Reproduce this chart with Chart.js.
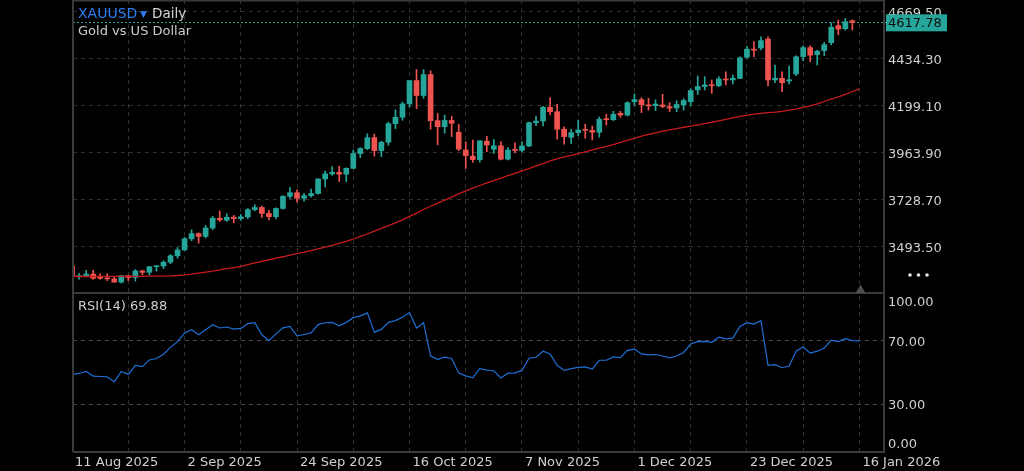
<!DOCTYPE html>
<html><head><meta charset="utf-8">
<script src="https://cdn.jsdelivr.net/npm/chart.js@4.4.1/dist/chart.umd.min.js"></script>
<style>html,body{margin:0;padding:0;background:#000;overflow:hidden}#wrap{width:1024px;height:471px}</style>
</head><body><div id="wrap"><canvas id="c" width="1024" height="471"></canvas></div>
<script>
const symbol = 'XAUUSD';
const interval = 'Daily';
const description = 'Gold vs US Dollar';
const rsiTitle = 'RSI(14)';
const dateLabels = ['11 Aug 2025','2 Sep 2025','24 Sep 2025','16 Oct 2025','7 Nov 2025','1 Dec 2025','23 Dec 2025','16 Jan 2026'];
const opens = [3396,3343,3348,3356,3336,3336,3332,3316,3348,3339,3372,3365,3393,3397,3416,3448,3477,3533,3559,3545,
3587,3636,3626,3641,3634,3643,3679,3690,3660,3644,3685,3746,3764,3736,3749,3760,3833,3858,3866,3857,
3886,3960,3985,4040,3975,4017,4110,4142,4209,4326,4251,4356,4125,4095,4126,4067,3978,3947,3930,4022,
3982,3999,3932,3981,3976,3998,4115,4123,4192,4170,4082,4042,4065,4078,4076,4067,4135,4130,4162,4153,
4220,4230,4204,4200,4204,4195,4189,4204,4220,4279,4296,4304,4300,4334,4329,4337,4443,4483,4489,4534,
4329,4337,4324,4359,4446,4491,4456,4476,4516,4601,4586,4626];
const highs = [3404,3359,3375,3375,3358,3358,3345,3350,3351,3379,3376,3394,3399,3423,3454,3489,3540,3578,3563,3600,
3646,3673,3658,3650,3655,3685,3703,3697,3676,3688,3750,3791,3779,3761,3782,3834,3872,3895,3897,3889,
3977,3990,4059,4058,4022,4117,4179,4218,4326,4381,4381,4375,4161,4153,4147,4107,4019,4028,4025,4046,
4030,4020,3990,4014,4019,4118,4148,4197,4240,4207,4094,4082,4128,4107,4098,4143,4157,4172,4172,4220,
4259,4240,4237,4229,4257,4215,4225,4235,4285,4349,4345,4329,4345,4370,4354,4445,4497,4521,4545,4545,
4404,4370,4399,4450,4500,4500,4478,4517,4615,4629,4638,4630];
const lows = [3342,3331,3345,3330,3330,3323,3315,3311,3324,3321,3352,3351,3371,3384,3408,3436,3475,3523,3511,3537,
3579,3620,3620,3613,3625,3633,3673,3640,3628,3633,3681,3735,3717,3722,3741,3757,3793,3851,3820,3820,
3885,3940,3980,3947,3945,4002,4085,4127,4192,4185,4237,4082,4004,4062,4045,3975,3886,3916,3917,3970,
3961,3928,3928,3964,3970,3995,4100,4098,4155,4032,4007,4010,4050,4037,4028,4042,4103,4125,4142,4148,
4203,4165,4178,4175,4190,4170,4170,4178,4200,4256,4279,4262,4295,4304,4309,4335,4438,4446,4480,4299,
4315,4270,4309,4350,4426,4421,4404,4451,4505,4555,4579,4579];
const closes = [3343,3348,3356,3335,3335,3332,3316,3348,3339,3372,3365,3393,3397,3416,3448,3477,3533,3559,3545,3587,
3636,3627,3641,3634,3643,3679,3690,3660,3644,3685,3746,3764,3736,3749,3760,3833,3858,3866,3857,3886,
3960,3985,4040,3975,4017,4110,4142,4209,4326,4251,4356,4125,4095,4126,4112,3982,3950,3930,4024,4003,
3999,3932,3978,3976,3998,4115,4123,4192,4170,4082,4045,4065,4078,4077,4067,4132,4130,4157,4153,4215,
4230,4205,4199,4208,4196,4188,4206,4226,4276,4296,4304,4300,4334,4329,4337,4440,4483,4478,4526,4329,
4337,4315,4330,4445,4491,4453,4473,4506,4593,4584,4621,4617.78];
const movingAvg = [3344,3344,3344,3344,3345,3345,3345,3345,3345,3345,3345,3346,3346,3346,3347,3349,3352,3356,3361,3366,
3371,3377,3383,3389,3395,3403,3412,3420,3428,3436,3443,3451,3459,3466,3474,3483,3491,3500,3510,3520,
3532,3545,3557,3571,3585,3599,3613,3628,3645,3662,3680,3696,3712,3727,3742,3758,3773,3787,3800,3813,
3824,3837,3849,3861,3873,3885,3898,3910,3923,3934,3943,3951,3960,3969,3978,3987,3996,4005,4016,4026,
4036,4047,4056,4064,4072,4079,4085,4092,4098,4104,4110,4117,4124,4131,4139,4146,4152,4158,4162,4165,
4168,4172,4178,4183,4191,4199,4209,4221,4233,4244,4257,4271,4284];
const rsiValues = [48.8,49.4,50.7,47.7,47.5,47.3,44.1,50.7,48.8,54.5,53.7,57.9,58.8,61.5,65.8,69.4,74.9,76.9,73.7,76.9,
80.1,78.0,78.6,77.3,77.7,80.7,81.3,73.7,70.0,74.3,78.1,79.0,73.0,73.9,74.9,80.1,81.3,81.5,79.4,81.5,
84.5,85.6,87.5,75.4,77.1,81.5,82.6,84.7,87.7,78.0,81.3,60.4,58.3,59.6,58.8,49.6,47.9,46.6,52.4,51.5,
51.1,46.6,49.6,49.8,51.3,59.0,59.6,63.4,61.7,54.5,51.3,52.4,53.2,53.5,52.1,57.7,57.7,59.8,59.4,63.9,
64.7,61.7,61.1,61.3,60.4,59.2,60.4,62.6,67.9,69.4,69.6,69.0,72.2,71.1,71.6,79.0,81.3,80.5,82.6,54.5,
54.9,53.0,54.1,63.4,66.0,62.2,63.4,65.4,70.3,69.4,71.3,70.0,69.88];
const priceTicks = [3493.5, 3728.7, 3963.9, 4199.1, 4434.3, 4669.5];
const rsiTicks = [0, 30, 70, 100];
const xTickStep = 8, xLabelStep = 16;
const lastPrice = 4617.78;
const lastRsi = 69.88;
const priceMin = 3261.4, priceMax = 4729.6;
const xMin = 0.13, xMax = 115.5;

const UP = '#26a69a', DOWN = '#ef5350';
const FONT = 'DejaVu Sans';
const LABEL = '#cfcfcf';
const GRID = '#303030';
Chart.defaults.font.family = FONT;

const candleColors = closes.map((c, i) => c >= opens[i] ? UP : DOWN);
const wickData = closes.map((c, i) => ({x: i, y: [lows[i], highs[i]]}));
const bodyData = closes.map((c, i) => ({x: i, y: [opens[i], c]}));
const maData = movingAvg.map((v, i) => ({x: i, y: v}));
const rsiData = rsiValues.map((v, i) => ({x: i, y: v}));
const xTickValues = [];
for (let v = 0; v <= dateLabels.length * xLabelStep - xLabelStep; v += xTickStep) xTickValues.push(v);

const panelPlugin = {
  id: 'panel',
  beforeDatasetsDraw(chart) {
    const {ctx, chartArea: ca, scales: {y}} = chart;
    const py = Math.round(y.getPixelForValue(lastPrice)) + 0.5;
    ctx.save();
    ctx.strokeStyle = UP; ctx.lineWidth = 1; ctx.setLineDash([2, 2]);
    ctx.beginPath(); ctx.moveTo(ca.left, py); ctx.lineTo(ca.right + 3, py); ctx.stroke();
    ctx.restore();
  },
  afterDraw(chart) {
    const {ctx, chartArea: ca, scales: {y, rsi}} = chart;
    ctx.save();
    // frame
    ctx.strokeStyle = '#3a3a3a'; ctx.lineWidth = 2; ctx.setLineDash([]);
    ctx.beginPath();
    ctx.moveTo(ca.left, 0); ctx.lineTo(ca.left, ca.bottom);
    ctx.moveTo(ca.right, 0); ctx.lineTo(ca.right, ca.bottom + 1);
    ctx.moveTo(ca.left, 0.5); ctx.lineTo(ca.right, 0.5);
    ctx.moveTo(ca.left, rsi.top); ctx.lineTo(ca.right + 1, rsi.top);
    ctx.moveTo(ca.left, ca.bottom); ctx.lineTo(ca.right, ca.bottom);
    ctx.stroke();
    // rsi end labels
    ctx.fillStyle = LABEL; ctx.font = '13px "' + FONT + '"'; ctx.textBaseline = 'middle'; ctx.textAlign = 'left';
    ctx.fillText(rsiTicks[3].toFixed(2), ca.right + 4, rsi.getPixelForValue(rsiTicks[3]) + 9.5);
    ctx.fillText(rsiTicks[0].toFixed(2), ca.right + 4, rsi.getPixelForValue(rsiTicks[0]) - 7);
    // price tag
    const py = y.getPixelForValue(lastPrice);
    ctx.fillStyle = UP; ctx.fillRect(ca.right + 2, py - 8, 61, 17);
    ctx.fillStyle = '#0d0d0d'; ctx.fillText(lastPrice.toFixed(2), ca.right + 4, py + 1.5);
    // header
    ctx.font = '14px "' + FONT + '"'; ctx.fillStyle = '#2f7df4';
    ctx.fillText(symbol, 78, 14);
    ctx.font = '9px "' + FONT + '"'; ctx.fillText('\u25BC', 140, 15);
    ctx.font = '13.5px "' + FONT + '"'; ctx.fillStyle = '#d4d4d4';
    ctx.fillText(interval, 152, 14);
    ctx.font = '13px "' + FONT + '"'; ctx.fillStyle = '#cccccc';
    ctx.fillText(description, 78, 31.5);
    ctx.fillText(rsiTitle + ' ' + lastRsi.toFixed(2), 78, 307);
    // dots and scroll marker
    ctx.fillStyle = '#e6e6e6';
    [910, 918.5, 927].forEach(cx => { ctx.beginPath(); ctx.arc(cx, 275, 1.8, 0, Math.PI * 2); ctx.fill(); });
    ctx.fillStyle = '#4c4c4c';
    ctx.beginPath(); ctx.moveTo(855.5, 293); ctx.lineTo(865.5, 293); ctx.lineTo(860.5, 284.5); ctx.closePath(); ctx.fill();
    ctx.restore();
  }
};

new Chart(document.getElementById('c'), {
  type: 'bar',
  data: {
    datasets: [
      {type: 'bar', data: wickData, backgroundColor: candleColors, barThickness: 1, grouped: false, clip: 0, order: 4, yAxisID: 'y'},
      {type: 'bar', data: bodyData, backgroundColor: candleColors, barThickness: 5, grouped: false, minBarLength: 1, clip: 0, order: 3, yAxisID: 'y'},
      {type: 'line', data: maData, borderColor: '#c81b1b', borderWidth: 1.3, pointRadius: 0, tension: 0, order: 2, yAxisID: 'y'},
      {type: 'line', data: rsiData, borderColor: '#1f6fd4', borderWidth: 1.2, pointRadius: 0, tension: 0, order: 1, yAxisID: 'rsi'}
    ]
  },
  options: {
    responsive: false, animation: false, devicePixelRatio: 1,
    layout: {padding: {left: 73, right: 0, top: 0, bottom: 0}},
    plugins: {legend: {display: false}, tooltip: {enabled: false}},
    scales: {
      x: {
        type: 'linear', min: xMin, max: xMax, offset: false,
        afterBuildTicks(s) { s.ticks = xTickValues.map(v => ({value: v})); },
        afterFit(s) { s.height = 19; s.paddingLeft = 0; s.paddingRight = 0; },
        grid: {color: GRID, drawTicks: false, offset: false, borderDash: [4, 4]},
        border: {display: false, dash: [4, 4]},
        ticks: {autoSkip: false, maxRotation: 0, minRotation: 0, align: 'start', labelOffset: 3, padding: 3,
          color: LABEL, font: {family: FONT, size: 13},
          callback: v => (v % xLabelStep === 0 ? dateLabels[v / xLabelStep] : '')}
      },
      y: {
        type: 'linear', position: 'right', stack: 'panes', stackWeight: 293, min: priceMin, max: priceMax,
        afterBuildTicks(s) { s.ticks = priceTicks.map(v => ({value: v})); },
        afterFit(s) { s.width = 140; s.paddingTop = 0; s.paddingBottom = 0; },
        grid: {color: GRID, drawTicks: false, borderDash: [4, 4]},
        border: {display: false, dash: [4, 4]},
        ticks: {padding: 4, labelOffset: 1.5, color: LABEL, font: {family: FONT, size: 13}, callback: v => Number(v).toFixed(2)}
      },
      rsi: {
        type: 'linear', position: 'right', stack: 'panes', stackWeight: 159, min: 0, max: 100,
        afterBuildTicks(s) { s.ticks = rsiTicks.filter(v => v > 0 && v < 100).map(v => ({value: v})); },
        afterFit(s) { s.width = 140; s.paddingTop = 0; s.paddingBottom = 0; },
        grid: {color: '#4a4a4a', drawTicks: false, borderDash: [4, 4]},
        border: {display: false, dash: [4, 4]},
        ticks: {padding: 4, labelOffset: 1.5, color: LABEL, font: {family: FONT, size: 13}, callback: v => Number(v).toFixed(2)}
      }
    }
  },
  plugins: [panelPlugin]
});
</script></body></html>
